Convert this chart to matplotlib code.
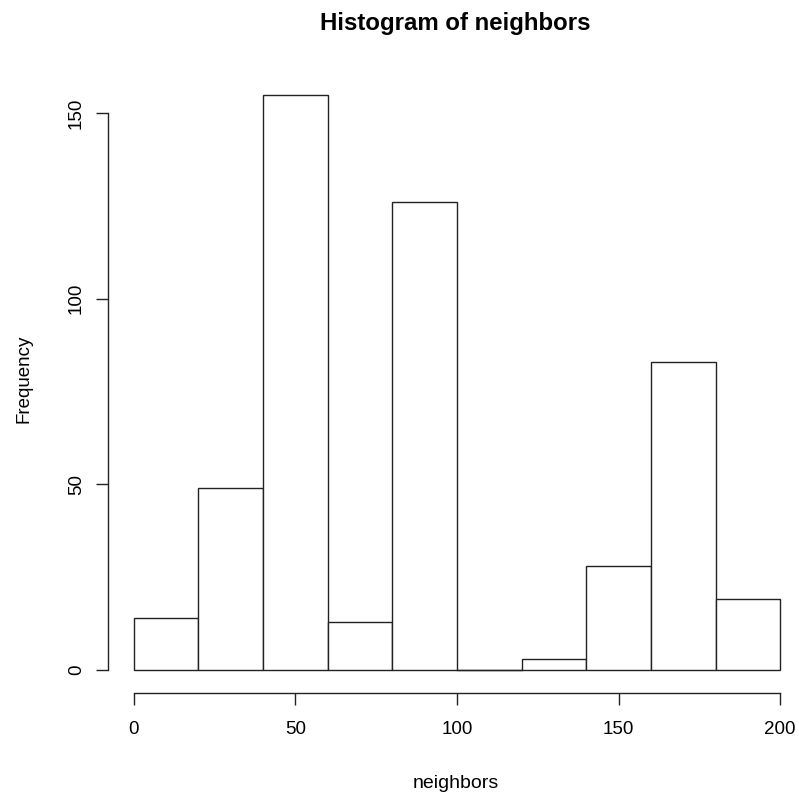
import matplotlib
matplotlib.use("Agg")
import matplotlib.pyplot as plt

# histogram counts per 20-wide bin
bin_edges = [0, 20, 40, 60, 80, 100, 120, 140, 160, 180, 200]
counts = [14, 49, 155, 13, 126, 0, 3, 28, 83, 19]
x_ticks = [0, 50, 100, 150, 200]
y_ticks = [0, 50, 100, 150]

plt.rcParams['font.family'] = ['Liberation Sans', 'DejaVu Sans']

W, H = 799, 793
fig = plt.figure(figsize=(W / 100, H / 100), dpi=100)
# plot region in pixels: left 108, right 806, top 71.5, bottom 693
ax = fig.add_axes([108 / W, (H - 693) / H, (806 - 108) / W, (693 - 71.5) / H])
ax.set_xlim(-8, 208)
ax.set_ylim(-6.2, 161.2)

lefts = bin_edges[:-1]
widths = [b - a for a, b in zip(bin_edges[:-1], bin_edges[1:])]
ax.bar(lefts, counts, width=widths, align='edge', facecolor='white',
       edgecolor='#222222', linewidth=1.0)
# empty bins still show a baseline, like base R
for a, w, c in zip(lefts, widths, counts):
    if c == 0:
        ax.plot([a, a + w], [0, 0], color='#222222', linewidth=1.0)

for s in ['top', 'right']:
    ax.spines[s].set_visible(False)
ax.spines['left'].set_bounds(0, 150)
ax.spines['bottom'].set_bounds(0, 200)
for s in ['left', 'bottom']:
    ax.spines[s].set_linewidth(1.0)
    ax.spines[s].set_color('#222222')

ax.set_xticks(x_ticks)
ax.set_yticks(y_ticks)
ax.tick_params(length=8.5, width=1.0, color='#222222', labelsize=13.5)
ax.tick_params(axis='x', pad=12)
ax.tick_params(axis='y', pad=8)
for lab in ax.get_yticklabels():
    lab.set_rotation(90)
    lab.set_va('center')

fig.text(456 / W, 1 - 787.5 / H, 'neighbors', ha='center', va='baseline',
         fontsize=14)
fig.text(28.5 / W, 1 - 379 / H, 'Frequency', ha='center', va='baseline',
         rotation=90, rotation_mode='anchor', fontsize=13.5)
fig.text(455.5 / W, 1 - 30 / H, 'Histogram of neighbors', ha='center',
         va='baseline', fontsize=17.3, fontweight='bold')

fig.savefig('out.png', dpi=100)
